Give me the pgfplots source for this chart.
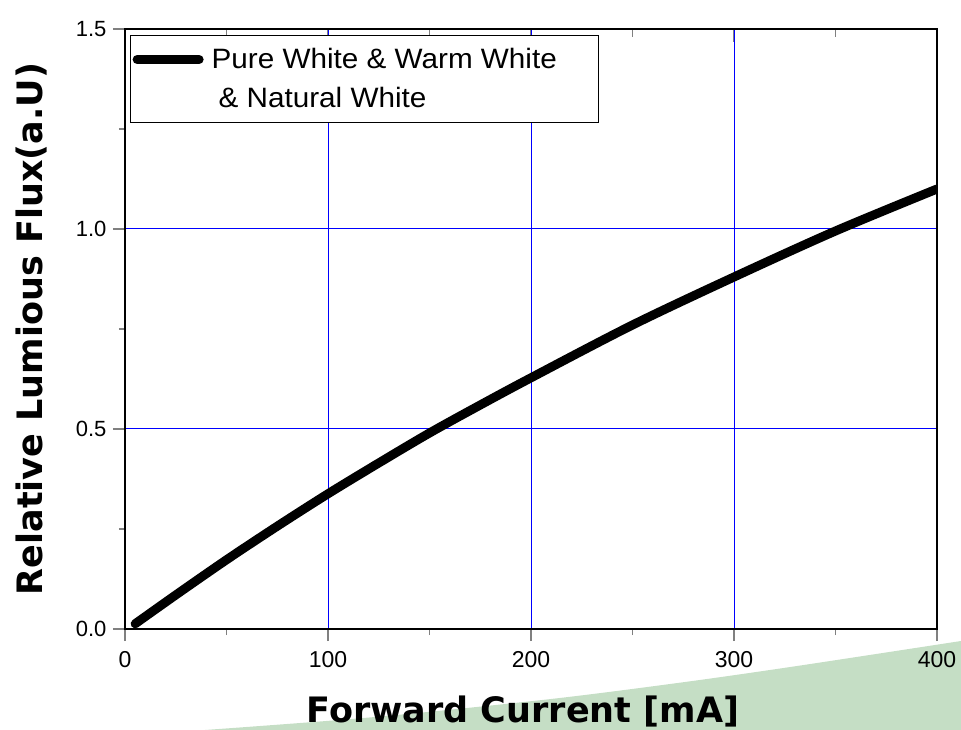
\documentclass[border=0pt]{standalone}
\usepackage{fontspec}
\setmainfont{Liberation Sans}
\newfontfamily\legfont[FakeStretch=1.06]{Liberation Sans}
\newfontfamily\labfont{DejaVu Sans}
\usepackage{pgfplots}
\pgfplotsset{compat=1.18}
\definecolor{gg}{RGB}{197,222,197}
\definecolor{gridblue}{RGB}{0,0,255}
\begin{document}
\begin{tikzpicture}
% decorative green band at the bottom right
\fill[gg] plot[smooth] coordinates {(80bp,-101bp) (250bp,-88bp) (426bp,-70bp) (560bp,-53bp) (672bp,-37bp) (836bp,-12bp)} -- (836bp,-101bp) -- cycle;
% top ticks (inward)
\begin{axis}[
  at={(0,0)}, anchor=south west, scale only axis,
  width=812bp, height=600bp,
  xmin=0, xmax=400, ymin=0, ymax=1.5,
  axis line style={draw=none},
  xtick={0,100,...,400}, minor x tick num=1,
  xtick pos=right, xticklabels={},
  ytick=\empty,
  tick align=inside,
  major tick length=13bp, minor tick length=8bp,
  tick style={line width=1.6bp},
]
\addplot[draw=none] coordinates {(0,0) (400,1.5)};
\end{axis}
\begin{axis}[
  at={(0,0)}, anchor=south west, scale only axis,
  width=812bp, height=600bp,
  xmin=0, xmax=400, ymin=0, ymax=1.5,
  axis line style={line width=1.6bp, black},
  xtick={0,100,...,400}, minor x tick num=1,
  ytick={0,0.5,1.0,1.5}, minor y tick num=1,
  xtick pos=left, ytick pos=left,
  tick align=outside,
  major tick length=12bp, minor tick length=6bp,
  tick style={line width=1.6bp},
  /pgf/number format/assume math mode=true,
  yticklabel style={/pgf/number format/fixed, /pgf/number format/fixed zerofill, /pgf/number format/precision=1},
  yticklabel style={font=\fontsize{22bp}{26bp}\selectfont, xshift=-3bp},
  xticklabel style={font=\fontsize{23bp}{27bp}\selectfont, yshift=-7bp},
  xmajorgrids, ymajorgrids,
  grid style={draw=gridblue, line width=1bp},
  major grid style={draw=gridblue, line width=1bp},
  xlabel={Forward Current [mA]},
  ylabel={Relative Lumious Flux(a.U)},
  xlabel style={at={(axis description cs:0.4901,0)}, anchor=base, yshift=-93bp, font=\labfont\bfseries\fontsize{35bp}{40bp}\selectfont},
  ylabel style={at={(axis description cs:-0.101,0.5)}, anchor=base, font=\labfont\bfseries\fontsize{35bp}{40bp}\selectfont},
  legend style={at={(axis description cs:0.0062,0.99)}, anchor=north west,
    draw=black, line width=1.2bp, fill=white,
    font=\legfont\fontsize{28bp}{39bp}\selectfont,
    inner xsep=2bp, inner ysep=11bp,
    nodes={align=left}},
  legend image code/.code={\path[draw=none] (0bp,-19.5bp) -- (0bp,19.5bp);\draw[#1, line cap=round] (0bp,19.5bp) -- (62bp,19.5bp);},
]
\addplot[black, line width=9bp, line cap=round, line join=round, smooth] coordinates {
(5,0.013) (25,0.085) (50,0.173) (75,0.257) (100,0.338) (125,0.415) (150,0.49)
(175,0.56) (200,0.628) (250,0.76) (300,0.88) (350,0.995) (400,1.1)};
\addlegendentry{\hspace{6bp}Pure White \& Warm White\hspace{38bp}\mbox{}\\\hspace{13bp}\& Natural White}
\end{axis}
\pgfresetboundingbox
\path[use as bounding box] (-125bp,-101bp) rectangle (836bp,629bp);
\end{tikzpicture}
\end{document}
